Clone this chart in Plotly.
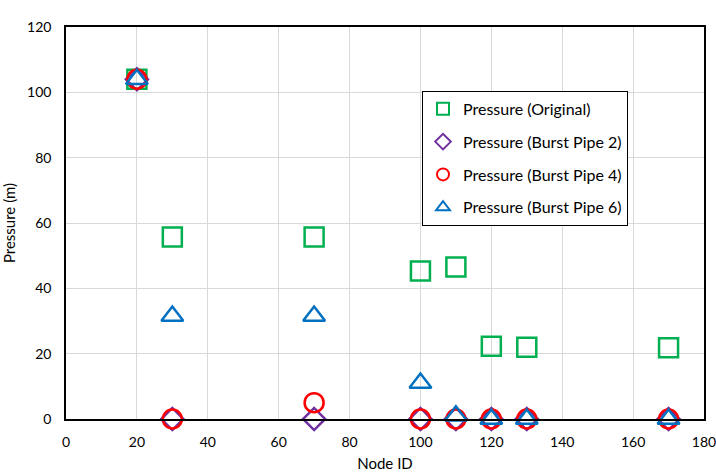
import plotly.graph_objects as go

node_ids = [20, 30, 70, 100, 110, 120, 130, 170]
p_original = [104, 55.7, 55.7, 45.3, 46.5, 22.3, 22.0, 21.8]
p_burst2 = [104, 0, 0, 0, 0, 0, 0, 0]
p_burst4 = [104, 0, 5, 0, 0, 0, 0, 0]
p_burst6 = [104, 31.5, 31.5, 11, 1, 0, 0, 0]

series = [
    ("Pressure (Original)", p_original, "square-open", "#00B050", 19),
    ("Pressure (Burst Pipe 2)", p_burst2, "diamond-open", "#7030A0", 17),
    ("Pressure (Burst Pipe 4)", p_burst4, "circle-open", "#FF0000", 19),
    ("Pressure (Burst Pipe 6)", p_burst6, "triangle-up-open", "#0070C0", 19),
]

fig = go.Figure()
for i, (name, vals, sym, col, sz) in enumerate(series):
    fig.add_trace(go.Scatter(
        x=node_ids, y=vals, mode="markers", name=name, cliponaxis=False,
        legendgroup=f"g{i}",
        marker=dict(symbol=sym, size=sz, color=col, line=dict(width=2.5, color=col)),
    ))

fig.update_layout(
    width=716, height=472,
    margin=dict(l=66, r=12, t=27, b=53),
    paper_bgcolor="white", plot_bgcolor="white",
    font=dict(family="Lato, Carlito, sans-serif", size=14, color="black"),
    showlegend=True,
    legend=dict(
        x=0.558, y=0.837, xanchor="left", yanchor="top",
        bgcolor="white", bordercolor="black", borderwidth=1,
        font=dict(size=16), tracegroupgap=9, itemsizing="constant",
    ),
    xaxis=dict(
        range=[0, 180], tick0=0, dtick=20, showgrid=True, gridcolor="#D9D9D9", gridwidth=1,
        showline=True, linecolor="black", linewidth=1.5, mirror=True, zeroline=False,
        ticks="", ticklabelstandoff=9, automargin=False, ticklabeloverflow="allow",
        title=dict(text="Node ID", font=dict(size=15), standoff=23),
    ),
    yaxis=dict(
        range=[0, 120], tick0=0, dtick=20, showgrid=True, gridcolor="#D9D9D9", gridwidth=1,
        showline=True, linecolor="black", linewidth=1.5, mirror=True, zeroline=False,
        ticks="", ticklabelstandoff=10, automargin=False, ticklabeloverflow="allow",
        title=dict(text="Pressure (m)", font=dict(size=15), standoff=10),
    ),
)

fig.write_html("out.html")
